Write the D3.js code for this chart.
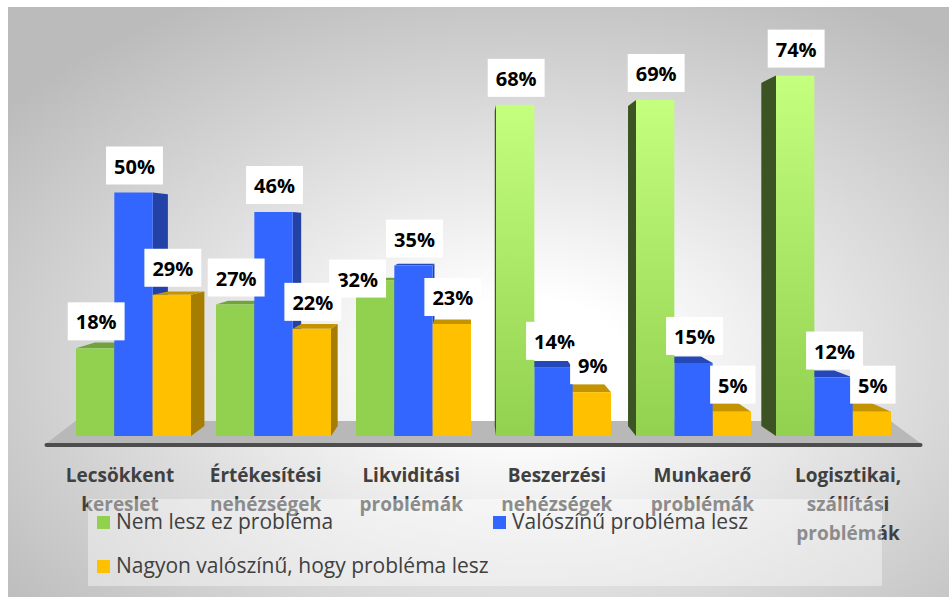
<!DOCTYPE html>
<html>
<head>
<meta charset="utf-8">
<script src="https://cdnjs.cloudflare.com/ajax/libs/d3/7.8.5/d3.min.js"></script>
<style>
  html, body { margin: 0; padding: 0; background: #fff; }
  svg { display: block; }
</style>
</head>
<body>
<svg id="chart"></svg>
<script>
// data (percent)
var categories = ["Lecsökkent kereslet", "Értékesítési nehézségek", "Likviditási problémák",
                  "Beszerzési nehézségek", "Munkaerő problémák", "Logisztikai, szállítási problémák"];
var seriesNames = ["Nem lesz ez probléma", "Valószínű probléma lesz", "Nagyon valószínű, hogy probléma lesz"];
var nemLesz = [18, 27, 32, 68, 69, 74];
var valoszinu = [50, 46, 35, 14, 15, 12];
var nagyonValoszinu = [29, 22, 23, 9, 5, 5];

var seriesValues = [nemLesz, valoszinu, nagyonValoszinu];
var colors = [
  {front: "#92D050", side: "#3C5323", top: "#72A23E"},
  {front: "#3366FF", side: "#2242A8", top: "#2448B8"},
  {front: "#FFC000", side: "#A67D00", top: "#C49300"}
];

var svgWidth = 949;
var svgHeight = 597;
var baseY = 436;
// fake 3d: vanishing point and depth factor
var vx = 470, vy = 228, depth = 0.048;

var svg = d3.select("#chart")
   .attr("width", svgWidth)
   .attr("height", svgHeight)
   .style("font-family", "'Open Sans', Lato, sans-serif");

var defs = svg.append("defs");
var bg = defs.append("radialGradient").attr("id", "bg")
   .attr("cx", "0.55").attr("cy", "0.6").attr("r", "0.7");
bg.append("stop").attr("offset", "0").attr("stop-color", "#ffffff");
bg.append("stop").attr("offset", "0.15").attr("stop-color", "#ffffff");
bg.append("stop").attr("offset", "1").attr("stop-color", "#bbbbbb");

var hi = defs.append("linearGradient").attr("id", "greenHi")
   .attr("x1", 0).attr("y1", 0).attr("x2", 0).attr("y2", 1);
hi.append("stop").attr("offset", "0").attr("stop-color", "#C4FF7E");
hi.append("stop").attr("offset", "1").attr("stop-color", "#92D050");

svg.append("rect")
   .attr("x", 8).attr("y", 7)
   .attr("width", svgWidth - 8).attr("height", svgHeight - 7)
   .attr("fill", "url(#bg)");

var x0 = d3.scaleBand()
   .domain(categories)
   .range([63.5, 903.5])
   .paddingInner(0.1786)
   .paddingOuter(0.0893);

var x1 = d3.scaleBand()
   .domain(d3.range(seriesNames.length))
   .range([0, x0.bandwidth()]);

var y = d3.scaleLinear()
   .domain([0, 80])
   .range([baseY, baseY - 80 * 4.87]);

function back(px, py) {
  return [px + depth * (vx - px), py + depth * (vy - py)];
}

// floor
var fl = x0.range()[0], fr = x0.range()[1];
var floorFront = baseY + 8;
svg.append("polygon")
   .attr("points", [[fl - 18, floorFront], [fr + 18, floorFront], [fr - 13, baseY - 15], [fl + 12, baseY - 15]].join(" "))
   .attr("fill", "#b8b8b8");
svg.append("line")
   .attr("x1", fl - 17).attr("x2", fr + 17)
   .attr("y1", floorFront + 1).attr("y2", floorFront + 1)
   .attr("stroke", "#4d4d4d").attr("stroke-width", 4)
   .attr("stroke-linecap", "round");

// bars
var bars = [];
categories.forEach(function(c, i) {
  seriesValues.forEach(function(vals, s) {
    var xa = x0(c) + x1(s);
    bars.push({cat: i, s: s, v: vals[i], xa: xa, xb: xa + x1.bandwidth(), yt: y(vals[i])});
  });
});
bars.sort(function(a, b) {
  return Math.abs((b.xa + b.xb) / 2 - vx) - Math.abs((a.xa + a.xb) / 2 - vx);
});

var barG = svg.append("g");
bars.forEach(function(b) {
  var g = barG.append("g");
  var col = colors[b.s];
  if (b.xb < vx) {
    g.append("polygon")
     .attr("points", [[b.xb, b.yt], [b.xb, baseY], back(b.xb, baseY), back(b.xb, b.yt)].join(" "))
     .attr("fill", col.side);
  } else if (b.xa > vx) {
    g.append("polygon")
     .attr("points", [[b.xa, b.yt], [b.xa, baseY], back(b.xa, baseY), back(b.xa, b.yt)].join(" "))
     .attr("fill", col.side);
  }
  if (b.yt > vy) {
    g.append("polygon")
     .attr("points", [[b.xa, b.yt], [b.xb, b.yt], back(b.xb, b.yt), back(b.xa, b.yt)].join(" "))
     .attr("fill", col.top);
  }
  g.append("rect")
   .attr("x", b.xa).attr("y", b.yt)
   .attr("width", b.xb - b.xa).attr("height", baseY - b.yt)
   .attr("fill", (b.s === 0 && b.v >= 60) ? "url(#greenHi)" : col.front);
});

// data labels, placed per series like the original
var labelG = svg.append("g");
var boxes = seriesValues.map(function(vals, s) {
  return vals.map(function(v, i) {
    var cx = x0(categories[i]) + x1(s) + x1.bandwidth() / 2 + 1;
    var t = labelG.append("text").text(v + "%")
       .attr("font-weight", 700).attr("font-size", 20);
    var w = t.node().getComputedTextLength() + 16;
    t.remove();
    var bottom = y(v) - 8;
    return {text: v + "%", x: cx - w / 2, w: w, top: bottom - 38, bottom: bottom};
  });
});
// move a label out of the way of the taller neighbour's label
for (var s = 0; s < seriesValues.length - 1; s++) {
  for (var i = 0; i < categories.length; i++) {
    var a = boxes[s][i], n = boxes[s + 1][i];
    if (seriesValues[s + 1][i] <= seriesValues[s][i]) continue;
    var ox = a.x + a.w - n.x;
    if (ox > 0 && a.top < n.bottom && a.bottom > n.top) {
      a.x -= ox;
      a.top = n.bottom + 2;
      a.bottom = a.top + 38;
    }
  }
}
boxes.forEach(function(list) {
  list.forEach(function(b) {
    labelG.append("rect")
       .attr("x", b.x).attr("y", b.top)
       .attr("width", b.w).attr("height", 38)
       .attr("fill", "#ffffff");
    labelG.append("text")
       .attr("x", b.x + b.w / 2).attr("y", b.bottom - 11)
       .attr("text-anchor", "middle")
       .attr("font-weight", 700).attr("font-size", 20)
       .attr("fill", "#000")
       .text(b.text);
  });
});

// category labels, spread out a bit like the front edge of the floor
var catG = svg.append("g");
categories.forEach(function(c) {
  var cx = vx + (x0(c) + x0.bandwidth() / 2 - vx) * 1.04;
  var t = catG.append("text")
     .attr("text-anchor", "middle")
     .attr("font-weight", 700).attr("font-size", 19)
     .attr("fill", "#404040");
  c.split(" ").forEach(function(word, k) {
    t.append("tspan").attr("x", cx).attr("y", 482 + k * 29).text(word);
  });
});

// legend
var legend = svg.append("g");
legend.append("rect")
   .attr("x", 88).attr("y", 499)
   .attr("width", 794).attr("height", 87)
   .attr("fill", "#ffffff").attr("fill-opacity", 0.4);
var legendPos = [[97, 516], [493, 516], [97, 560]];
seriesNames.forEach(function(name, s) {
  legend.append("rect")
     .attr("x", legendPos[s][0]).attr("y", legendPos[s][1])
     .attr("width", 13).attr("height", 13)
     .attr("fill", colors[s].front);
  legend.append("text")
     .attr("x", legendPos[s][0] + 19).attr("y", legendPos[s][1] + 13)
     .attr("font-size", 21)
     .attr("fill", "#404040")
     .text(name);
});
</script>
</body>
</html>
